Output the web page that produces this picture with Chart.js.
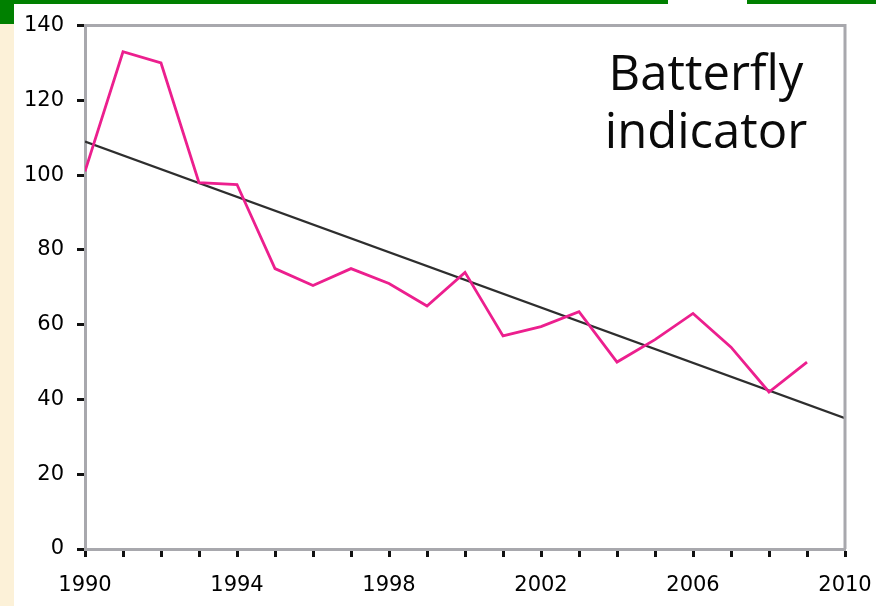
<!DOCTYPE html>
<html lang="en">
<head>
  <meta charset="UTF-8">
  <title>Batterfly indicator</title>
  <style>
    html, body {
      margin: 0;
      padding: 0;
      background: #ffffff;
    }
    #wrap {
      width: 876px;
      height: 606px;
    }
  </style>
  <script src="https://cdn.jsdelivr.net/npm/chart.js"></script>
</head>
<body>
  <div id="wrap">
    <canvas id="butterflyChart" width="876" height="606"></canvas>
  </div>

  <script>
    // data
    const years = [1990, 1991, 1992, 1993, 1994, 1995, 1996, 1997, 1998, 1999,
                   2000, 2001, 2002, 2003, 2004, 2005, 2006, 2007, 2008, 2009];
    const indicator = [101, 133, 130, 98, 97.5, 75, 70.5, 75, 71, 65,
                       74, 57, 59.5, 63.5, 50, 56, 63, 54, 42, 50];
    const trendYears = [1990, 2010];
    const trendValues = [109, 35];
    const xLabelYears = [1990, 1994, 1998, 2002, 2006, 2010];
    const yTicks = [0, 20, 40, 60, 80, 100, 120, 140];
    const titleLines = ['Batterfly', 'indicator'];

    const axisGray = '#a8a8ad';

    // slide background: green bar on top, cream strip on the left
    const backgroundPlugin = {
      id: 'slideBackground',
      beforeDraw(chart) {
        const ctx = chart.ctx;
        ctx.save();
        ctx.fillStyle = '#ffffff';
        ctx.fillRect(0, 0, chart.width, chart.height);
        ctx.fillStyle = '#fcf1d8';
        ctx.fillRect(0, 24, 14, chart.height - 24);
        ctx.fillStyle = '#008000';
        ctx.fillRect(0, 0, 14, 24);
        ctx.fillRect(0, 0, 668, 4);
        ctx.fillRect(747, 0, chart.width - 747, 4);
        ctx.restore();
      }
    };

    // grey frame round the plot and the label in the corner
    const framePlugin = {
      id: 'plotFrame',
      afterDraw(chart) {
        const a = chart.chartArea;
        const ctx = chart.ctx;
        ctx.save();
        ctx.strokeStyle = axisGray;
        ctx.lineWidth = 3;
        ctx.beginPath();
        ctx.moveTo(a.left, a.top);
        ctx.lineTo(a.right, a.top);
        ctx.lineTo(a.right, a.bottom);
        ctx.stroke();

        ctx.fillStyle = '#0a0a0a';
        ctx.font = '49px "Open Sans", "Noto Sans", sans-serif';
        ctx.textAlign = 'center';
        ctx.textBaseline = 'alphabetic';
        ctx.fillText(titleLines[0], 706, 90);
        ctx.fillText(titleLines[1], 706, 148);
        ctx.restore();
      }
    };

    const ctx = document.getElementById('butterflyChart').getContext('2d');
    new Chart(ctx, {
      type: 'line',
      data: {
        datasets: [
          {
            label: 'Batterfly indicator',
            data: years.map((y, i) => ({ x: y, y: indicator[i] })),
            borderColor: '#ec1f8e',
            borderWidth: 2.8,
            pointRadius: 0,
            tension: 0,
            fill: false
          },
          {
            label: 'Trend',
            data: trendYears.map((y, i) => ({ x: y, y: trendValues[i] })),
            borderColor: '#2e2e2e',
            borderWidth: 2.2,
            pointRadius: 0,
            fill: false
          }
        ]
      },
      options: {
        responsive: false,
        animation: false,
        layout: {
          padding: { top: 25, right: 31, left: 0, bottom: 0 }
        },
        plugins: {
          legend: { display: false },
          tooltip: { enabled: false }
        },
        scales: {
          x: {
            type: 'linear',
            min: 1990,
            max: 2010,
            afterFit(scale) {
              scale.height = 57;
              // keep the plot edge fixed, the labels fit inside the margin
              scale.paddingLeft = 0;
              scale.paddingRight = 0;
            },
            afterBuildTicks(scale) {
              scale.ticks = years.concat([2010]).map(v => ({ value: v }));
            },
            ticks: {
              autoSkip: false,
              maxRotation: 0,
              padding: 16,
              color: '#000000',
              font: { family: '"DejaVu Sans", sans-serif', size: 21 },
              callback: (v) => xLabelYears.includes(v) ? String(v) : ''
            },
            grid: {
              drawOnChartArea: false,
              drawTicks: true,
              tickLength: 8,
              tickColor: '#111111',
              tickWidth: 3
            },
            border: { color: axisGray, width: 3 }
          },
          y: {
            min: 0,
            max: 140,
            afterFit(scale) { scale.width = 85; },
            afterBuildTicks(scale) {
              scale.ticks = yTicks.map(v => ({ value: v }));
            },
            ticks: {
              padding: 13,
              color: '#000000',
              font: { family: '"DejaVu Sans", sans-serif', size: 21 }
            },
            grid: {
              drawOnChartArea: false,
              drawTicks: true,
              tickLength: 8,
              tickColor: '#111111',
              tickWidth: 3
            },
            border: { color: axisGray, width: 3 }
          }
        }
      },
      plugins: [backgroundPlugin, framePlugin]
    });
  </script>
</body>
</html>
